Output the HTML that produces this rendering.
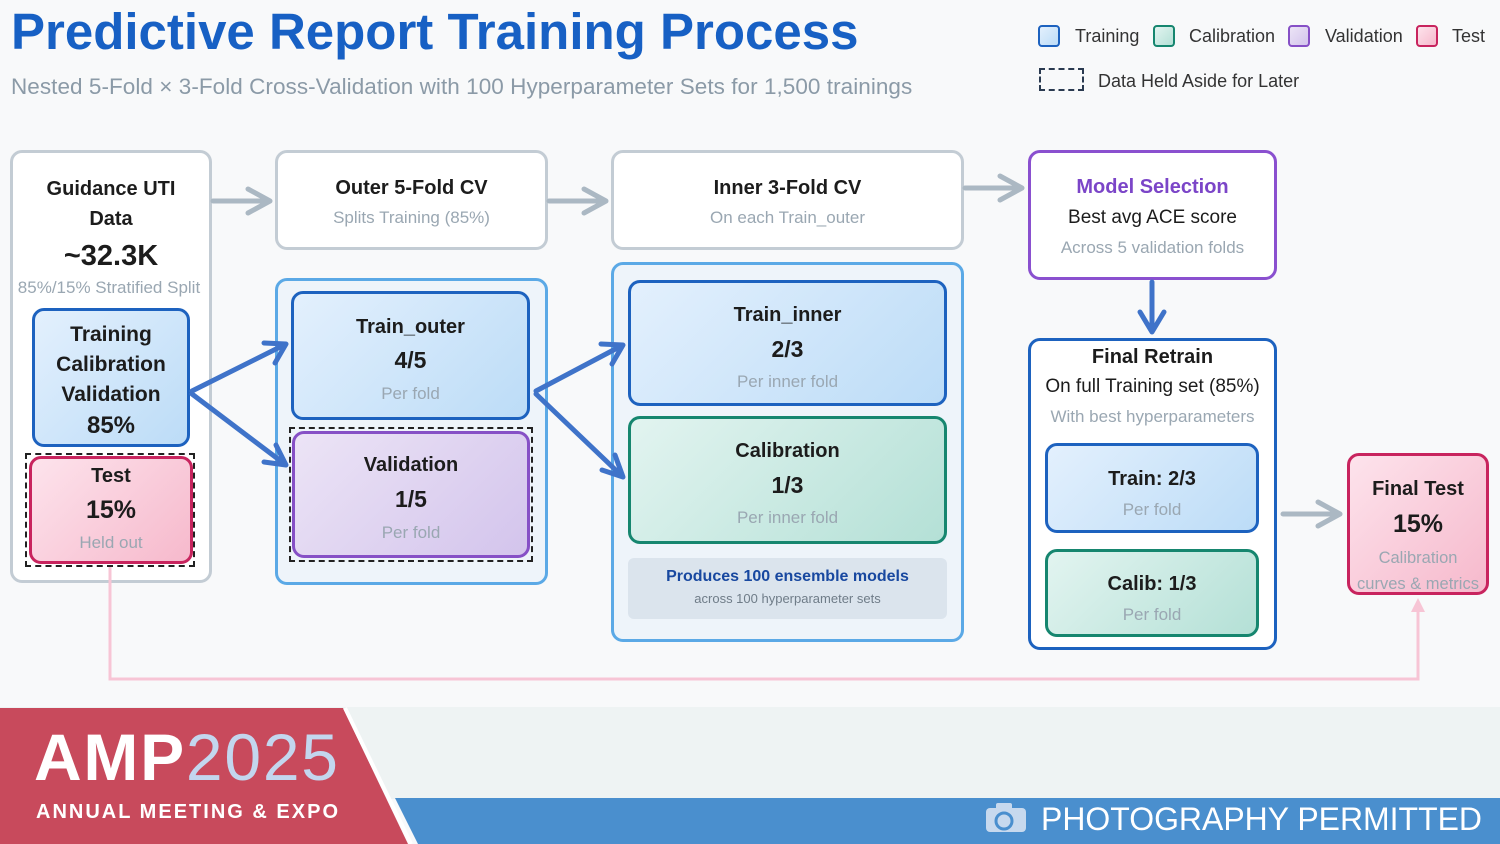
<!DOCTYPE html>
<html><head><meta charset="utf-8"><style>
*{box-sizing:border-box;margin:0;padding:0}
body{width:1500px;height:844px;position:relative;overflow:hidden;background:#f8f9fa;font-family:"Liberation Sans",Arial,sans-serif;color:#1c1c1c}
.a{position:absolute}
.box{position:absolute;border-radius:12px;text-align:center}
.w{background:#fff;border:3px solid #c3ccd4}
.tr{background:linear-gradient(135deg,#e3f0fd,#bcdcf7);border:3px solid #1d62bf}
.ca{background:linear-gradient(135deg,#e2f4f0,#b4e0d6);border:3px solid #16866f}
.va{background:linear-gradient(135deg,#ece4f6,#d3c4ec);border:3px solid #8650c6}
.te{background:linear-gradient(135deg,#fde3ec,#f6b9cc);border:3px solid #c8245e}
.b{font-weight:bold}
.g{color:#9aa7b2}
.leg{position:absolute;top:25px;width:22px;height:22px;border-radius:4px}
</style></head><body>
<div class="a b" style="left:11px;top:2px;font-size:51px;color:#1760c4;white-space:nowrap">Predictive Report Training Process</div>
<div class="a" style="left:11px;top:74px;font-size:22.5px;letter-spacing:0.05px;color:#8b9aa7;white-space:nowrap">Nested 5-Fold × 3-Fold Cross-Validation with 100 Hyperparameter Sets for 1,500 trainings</div>

<div class="leg tr" style="left:1038px;border-width:2px;border-radius:4px"></div><div class="a" style="left:1075px;top:26px;font-size:18px;color:#333">Training</div>
<div class="leg ca" style="left:1153px;border-width:2px;border-radius:4px"></div><div class="a" style="left:1189px;top:26px;font-size:18px;color:#333">Calibration</div>
<div class="leg va" style="left:1288px;border-width:2px;border-radius:4px"></div><div class="a" style="left:1325px;top:26px;font-size:18px;color:#333">Validation</div>
<div class="leg te" style="left:1416px;border-width:2px;border-radius:4px"></div><div class="a" style="left:1452px;top:26px;font-size:18px;color:#333">Test</div>
<div class="a" style="left:1039px;top:68px;width:45px;height:23px;border:2px dashed #2a3a50"></div><div class="a" style="left:1098px;top:71px;font-size:18px;color:#333">Data Held Aside for Later</div>

<!-- col1 -->
<div class="box w" style="left:10px;top:150px;width:202px;height:433px">
<div class="b" style="font-size:20px;line-height:30px;margin-top:21px">Guidance UTI<br>Data</div>
<div class="b" style="font-size:29px;margin-top:6px">~32.3K</div>
<div class="g" style="font-size:17px;margin-top:5px;white-space:nowrap;margin-left:-4px">85%/15% Stratified Split</div>
</div>
<div class="box tr" style="left:32px;top:308px;width:158px;height:139px;padding-top:9px"><div class="b" style="font-size:21px;line-height:30px">Training<br>Calibration<br>Validation</div><div class="b" style="font-size:24px;margin-top:2px">85%</div></div>
<div class="a" style="left:25px;top:453px;width:170px;height:114px;border:2px dashed #222"></div>
<div class="box te" style="left:29px;top:456px;width:164px;height:108px;padding-top:6px"><div class="b" style="font-size:20px">Test</div><div class="b" style="font-size:25px;margin-top:8px">15%</div><div class="g" style="font-size:17px;margin-top:8px">Held out</div></div>

<!-- col2 -->
<div class="box w" style="left:275px;top:150px;width:273px;height:100px;padding-top:24px"><div class="b" style="font-size:20px">Outer 5-Fold CV</div><div class="g" style="font-size:17px;margin-top:8px">Splits Training (85%)</div></div>
<div class="box" style="left:275px;top:278px;width:273px;height:307px;background:#eef4fa;border:3px solid #5ba9e6"></div>
<div class="box tr" style="left:291px;top:291px;width:239px;height:129px;padding-top:22px"><div class="b" style="font-size:20px">Train_outer</div><div class="b" style="font-size:23px;margin-top:8px">4/5</div><div class="g" style="font-size:17px;margin-top:10px">Per fold</div></div>
<div class="a" style="left:289px;top:427px;width:244px;height:135px;border:2px dashed #222"></div>
<div class="box va" style="left:292px;top:431px;width:238px;height:127px;padding-top:20px"><div class="b" style="font-size:20px">Validation</div><div class="b" style="font-size:23px;margin-top:9px">1/5</div><div class="g" style="font-size:17px;margin-top:10px">Per fold</div></div>

<!-- col3 -->
<div class="box w" style="left:611px;top:150px;width:353px;height:100px;padding-top:24px"><div class="b" style="font-size:20px">Inner 3-Fold CV</div><div class="g" style="font-size:17px;margin-top:8px">On each Train_outer</div></div>
<div class="box" style="left:611px;top:262px;width:353px;height:380px;background:#eef4fa;border:3px solid #5ba9e6"></div>
<div class="box tr" style="left:628px;top:280px;width:319px;height:126px;padding-top:21px"><div class="b" style="font-size:20px">Train_inner</div><div class="b" style="font-size:23px;margin-top:9px">2/3</div><div class="g" style="font-size:17px;margin-top:9px">Per inner fold</div></div>
<div class="box ca" style="left:628px;top:416px;width:319px;height:128px;padding-top:21px"><div class="b" style="font-size:20px">Calibration</div><div class="b" style="font-size:23px;margin-top:9px">1/3</div><div class="g" style="font-size:17px;margin-top:9px">Per inner fold</div></div>
<div class="box" style="left:628px;top:558px;width:319px;height:61px;background:#dbe4ed;border-radius:6px;padding-top:10px"><div class="b" style="font-size:16px;color:#1848a0">Produces 100 ensemble models</div><div style="font-size:13px;color:#6f7c88;margin-top:5px">across 100 hyperparameter sets</div></div>

<!-- col4 -->
<div class="box w" style="left:1028px;top:150px;width:249px;height:130px;border-color:#8a50cf;padding-top:23px"><div class="b" style="font-size:20px;color:#7b45c8">Model Selection</div><div style="font-size:19px;margin-top:8px">Best avg ACE score</div><div class="g" style="font-size:17px;margin-top:9px">Across 5 validation folds</div></div>
<div class="box w" style="left:1028px;top:338px;width:249px;height:312px;border-color:#1d62bf;padding-top:5px"><div class="b" style="font-size:20px">Final Retrain</div><div style="font-size:19px;margin-top:7px">On full Training set (85%)</div><div class="g" style="font-size:17px;margin-top:9px">With best hyperparameters</div></div>
<div class="box tr" style="left:1045px;top:443px;width:214px;height:90px;padding-top:22px"><div class="b" style="font-size:20px">Train: 2/3</div><div class="g" style="font-size:17px;margin-top:9px">Per fold</div></div>
<div class="box ca" style="left:1045px;top:549px;width:214px;height:88px;padding-top:21px"><div class="b" style="font-size:20px">Calib: 1/3</div><div class="g" style="font-size:17px;margin-top:9px">Per fold</div></div>

<div class="box te" style="left:1347px;top:453px;width:142px;height:142px;padding-top:22px"><div class="b" style="font-size:20px">Final Test</div><div class="b" style="font-size:25px;margin-top:9px">15%</div><div class="g" style="font-size:16.5px;margin-top:6px;line-height:26px;white-space:nowrap;margin-left:-4px;margin-right:-4px">Calibration<br>curves &amp; metrics</div></div>

<svg class="a" style="left:0;top:0" width="1500" height="844">
<g stroke="#abb8c3" stroke-width="5" fill="none" stroke-linecap="round" stroke-linejoin="round">
<path d="M213 201H270M248 189L270 201L248 213"/>
<path d="M549 201H606M584 189L606 201L584 213"/>
<path d="M965 188H1022M1000 176L1022 188L1000 200"/>
<path d="M1283 514H1340M1318 502L1340 514L1318 526"/>
</g>
<g stroke="#3f73c9" stroke-width="5" fill="none" stroke-linecap="round" stroke-linejoin="round">
<path d="M1152 282V332M1140 312L1152 332L1164 312"/>
<path d="M192 391L286 344M264 343L286 344L275 363"/>
<path d="M192 394L286 465M276 445L286 465L264 462"/>
<path d="M536 391L623 345M601 344L623 345L612 364"/>
<path d="M536 394L623 477M615 455L623 477L602 470"/>
</g>
<g stroke="#f7c5d5" stroke-width="3" fill="none">
<path d="M110 567V679H1418V605"/>
</g>
<path d="M1411 612L1418 598L1425 612Z" fill="#f7c5d5"/>
<!-- footer -->
<rect x="0" y="707" width="1500" height="92" fill="#eef3f3"/>
<polygon points="395,798 1500,798 1500,844 418,844" fill="#4a8fce"/>
<polygon points="0,708 343,708 408,844 0,844" fill="#c84a5c"/>
<line x1="345" y1="708" x2="411" y2="844" stroke="#fff" stroke-width="4"/>
<g fill="#c7d9ee"><rect x="986" y="808" width="40" height="24" rx="4"/><rect x="996" y="803" width="16" height="8" rx="2"/></g>
<circle cx="1004" cy="821" r="8" fill="none" stroke="#4a8fce" stroke-width="3"/>
<text x="34" y="780" font-family="Liberation Sans,Arial,sans-serif" font-weight="bold" font-size="66" fill="#fff" textLength="304">AMP<tspan font-weight="normal" fill="#c3d6ee">2025</tspan></text>
<text x="36" y="818" font-family="Liberation Sans,Arial,sans-serif" font-weight="bold" font-size="20" fill="#fff" textLength="302">ANNUAL MEETING &amp; EXPO</text>
<text x="1041" y="830" font-family="Liberation Sans,Arial,sans-serif" font-size="32" fill="#fff" textLength="441" lengthAdjust="spacingAndGlyphs">PHOTOGRAPHY PERMITTED</text>
</svg>
</body></html>
